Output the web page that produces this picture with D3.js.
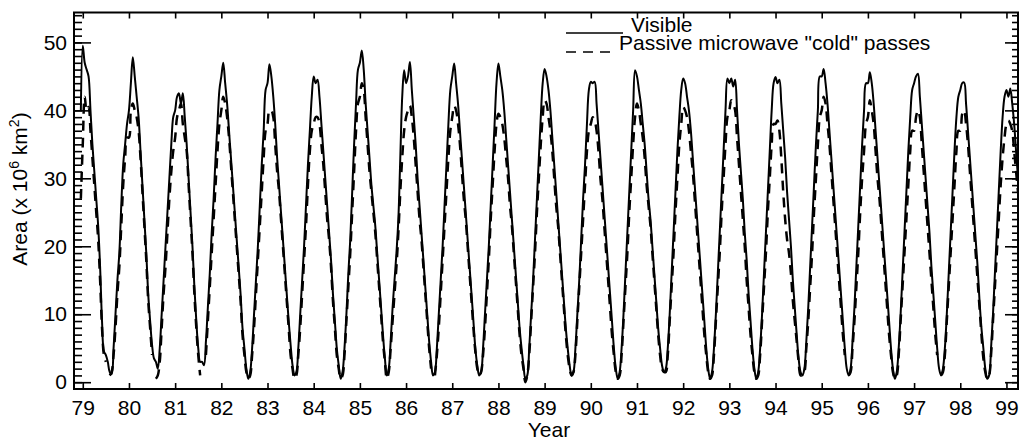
<!DOCTYPE html>
<html>
<head>
<meta charset="utf-8">
<script src="https://cdn.jsdelivr.net/npm/d3@7"></script>
<style>
  body { margin: 0; background: #fff; }
  svg text { font-family: "Liberation Sans", Arial, Helvetica, sans-serif; fill: #000; }
</style>
</head>
<body>
<div id="chart"></div>
<script>
// half-month samples, first one at 78 + 23/24
var startYear = 78 + 23 / 24;
var stepsPerYear = 24;
var yearTicks = d3.range(79, 100);
var areaTicks = [0, 10, 20, 30, 40, 50];
var legendLabels = ["Visible", "Passive microwave \"cold\" passes"];

// Visible (10^6 km2), one row per year
var visible = [40,
  49.5,47,46,45,40,35,31,27,23,17,9,4.5,4,3,1.5,1.2,5,10,15,19,26,32,35,38,
  40,44,47.8,45,42,39,34,29,24,19,13,9,5.5,3.5,3,2,5,10,15,20,25,30,35,39,
  40,42,42.5,41,42.5,39,35,30,25,20,14,9,5,3,3,2.5,6,11,16,22,27,33,38,43,
  45,47,44,41,37,33,29,25,21,17,13,8,5,2,0.5,1.5,5,10,15,20,26,32,37,43,
  44,46.8,45,42,38,33,29,25,21,17,13,9,5.5,2.5,1,1.5,5,10,15,20,26,32,37,42,
  45,44,44.5,42,38,34,30,26,22,18,13,9,5,2.5,0.5,1.5,5,10,16,21,28,35,41,46,
  47,48.8,46,41,37,33,29,26,23,19,15,11,7,3.5,1,2,6,11,15,19,24,33,42,45.9,
  44,45,47.1,43,39,35,30,26,22,18,14,10,6,3,1,1.5,5,10,15,20,26,32,38,43,
  45,46.9,44,41,37,33,29,25,21,17,13,9,5,2.5,1,1.5,5,10,15,20,26,32,38,44,
  46.9,45,43,40,36,32,28,24,20,16,12,8,5,2.5,0.5,1,5,10,15,21,27,33,39,44,
  46.1,45,43,40,36,32,28,24,20,16,12,8,5,2.5,1,1.5,5,10,15,21,27,32,38,43,
  44.2,44,44.2,41,37,33,29,25,21,17,13,9,5,2,0.5,1.5,5,10,16,22,28,34,40,45.9,
  45,43,41,38,35,31,27,24,20,16,12,8,5,2.5,1.5,2,5,10,16,22,28,34,39,43,
  44.7,44,42,40,37,33,29,25,21,17,13,9,5,2,0.5,1.5,5,10,16,22,28,34,40,44.7,
  44,44.7,43.5,44.5,40,35,31,27,22,18,13,9,5,2,0.5,1.5,5,10,16,22,28,34,40,44,
  44.9,44,44.5,41,37,33,28,24,20,15,11,7,3.5,1.5,1,2,6,11,17,23,29,35,40,45,
  45,46.1,44,41,37,33,29,25,21,17,13,9,5,2,1,2,6,11,17,23,29,35,40,44,
  44,45.6,44,41,37,33,29,25,21,17,13,9,5,2,0.5,1.5,5,10,16,22,28,34,39,43,
  44,45,45.4,42,38,34,30,26,22,17,13,9,5,2,1,2,5,10,16,22,28,34,39,42,
  43,44,44.1,41,37,33,29,25,21,17,12,8,5,2,0.5,1,5,10,16,22,28,34,39,42,
  43,42,43.2,41,38,34,30
];

// Passive microwave "cold" passes (10^6 km2), null = no data
var microwave = [27,
  35,42,40,40.5,37,33,29,25,21,15,8,4,3,null,1,1.5,4,8,13,17,23,29,33,36,
  36,40,41,40,39,37,33,28,23,18,12,8,4,null,0.5,1,3,8,13,17,22,27,31,34,
  36,39,40,41,38,36,34,29,24,19,13,8,4,1,null,null,4,9,14,19,24,29,34,38,
  40,42,41,39,36,32,28,24,20,16,12,7,4,1.5,0.5,1,4,8,13,18,23,28,33,37,
  38,40,40,39,35,31,28,24,20,16,12,8,4,2,0.5,1,4,8,13,18,23,29,34,37,
  38,39,39,38,35,32,28,24,21,17,12,8,4,2,0.5,1,4,9,14,19,25,31,37,41,
  42,44,43,39,35,31,28,25,22,18,14,10,6,3,0.5,1.5,5,9,13,17,22,28,33,37,
  39,40,40.7,39,36,32,28,24,21,17,13,9,5,2,null,1,4,8,13,18,23,28,33,37,
  39,40.7,40,38,35,31,27,24,20,16,12,8,4.5,2,1,1.5,4,8,13,18,24,29,34,38,
  39.5,39,38,36,33,30,26,23,19,15,11,7,4,2,0,1,4,9,14,19,25,30,35,39,
  41.5,41,39,37,34,30,26,23,19,15,11,7,4,2,1,1.5,4,9,14,19,24,29,34,37,
  38,39,38.5,37,34,30,27,23,19,15,11,7,4,1.5,0.5,1,4,9,14,19,25,30,35,39,
  41,40,38,36,33,29,26,23,19,15,11,7,4,2,1.5,1.5,4,9,14,19,25,30,35,38,
  40.5,40,39,37,34,31,27,23,19,15,11,7,4,1.5,0.5,1,4,9,14,19,25,30,35,39,
  40,41.5,41,40,36,32,28,24,20,15,11,7,4,1.5,0.5,1,4,9,14,19,25,30,35,38,
  38,38.5,37,33,28,24,21,19,16,12,9,6,3,1,1,1.5,5,9,14,19,25,30,35,39,
  40,42,41,38,35,31,27,23,19,15,11,7,4,null,1,1.5,5,9,14,19,25,30,34,38,
  39,41.5,40,38,34,30,27,23,19,15,11,7,4,1.5,0.5,1,4,9,14,19,24,29,34,37,
  37,39,40,39,35,31,27,23,19,15,11,7,4,null,1,1.5,4,9,14,19,24,29,34,37,
  37,39.5,40,38,35,31,27,23,19,15,11,7,3.5,1.5,0.5,1,4,9,14,19,24,29,33,36,
  38,38.5,38,37,34,31,28
];

var svgWidth = 1019, svgHeight = 440;
var plot = {left: 74, right: 1018, top: 12.5, bottom: 389};
var fontSize = "21px";

var x = d3.scaleLinear()
  .domain([78.81, 99.25])
  .range([plot.left, plot.right]);
var y = d3.scaleLinear()
  .domain([-1, 54.4])
  .range([plot.bottom, plot.top]);

var svg = d3.select("#chart").append("svg")
    .attr("width", svgWidth)
    .attr("height", svgHeight);

svg.append("clipPath")
    .attr("id", "clip")
  .append("rect")
    .attr("x", plot.left)
    .attr("y", plot.top)
    .attr("width", plot.right - plot.left)
    .attr("height", plot.bottom - plot.top);

function toPoints(values) {
  return values.map(function(v, i) {
    return {date: startYear + i / stepsPerYear, area: v};
  });
}

var line = d3.line()
  .defined(function(d) { return d.area !== null; })
  .x(function(d) { return x(d.date); })
  .y(function(d) { return y(d.area); })
  .curve(d3.curveCatmullRom.alpha(0.5));

var lines = svg.append("g").attr("clip-path", "url(#clip)");

lines.append("path")
    .datum(toPoints(microwave))
    .attr("fill", "none")
    .attr("stroke", "#000")
    .attr("stroke-width", 2.5)
    .attr("stroke-dasharray", "10,7")
    .attr("d", line);

lines.append("path")
    .datum(toPoints(visible))
    .attr("fill", "none")
    .attr("stroke", "#000")
    .attr("stroke-width", 2)
    .attr("d", line);

function styleAxis(g) {
  g.select(".domain").remove();
  g.selectAll(".tick line").attr("stroke", "#000").attr("stroke-width", 1.6);
  g.selectAll("text").attr("font-size", fontSize).attr("fill", "#000");
}

// bottom and top year ticks
svg.append("g")
    .attr("transform", "translate(0," + plot.bottom + ")")
    .call(d3.axisBottom(x).tickValues(yearTicks).tickFormat(function(d) { return d; })
      .tickSize(-6).tickPadding(11))
    .call(styleAxis);

svg.append("g")
    .attr("transform", "translate(0," + plot.top + ")")
    .call(d3.axisTop(x).tickValues(yearTicks).tickFormat("").tickSize(-6))
    .call(styleAxis);

// left axis: minor every 1, major every 10
svg.append("g")
    .attr("transform", "translate(" + plot.left + ",0)")
    .call(d3.axisLeft(y).tickValues(d3.range(0, 55)).tickFormat("").tickSize(-8))
    .call(styleAxis);

svg.append("g")
    .attr("transform", "translate(" + plot.left + ",0)")
    .call(d3.axisLeft(y).tickValues(areaTicks).tickSize(-17).tickPadding(7))
    .call(styleAxis);

// right axis
svg.append("g")
    .attr("transform", "translate(" + plot.right + ",0)")
    .call(d3.axisRight(y).tickValues(d3.range(0, 55)).tickFormat("").tickSize(-6))
    .call(styleAxis);

svg.append("g")
    .attr("transform", "translate(" + plot.right + ",0)")
    .call(d3.axisRight(y).tickValues(areaTicks).tickFormat("").tickSize(-13))
    .call(styleAxis);

// frame
svg.append("rect")
    .attr("x", plot.left)
    .attr("y", plot.top)
    .attr("width", plot.right - plot.left)
    .attr("height", plot.bottom - plot.top)
    .attr("fill", "none")
    .attr("stroke", "#000")
    .attr("stroke-width", 2);

// axis titles
svg.append("text")
    .attr("x", 549)
    .attr("y", 437)
    .attr("text-anchor", "middle")
    .attr("font-size", fontSize)
    .text("Year");

var yTitle = svg.append("text")
    .attr("transform", "translate(27,189) rotate(-90)")
    .attr("text-anchor", "middle")
    .attr("font-size", fontSize);
yTitle.append("tspan").text("Area (x 10");
yTitle.append("tspan").attr("font-size", "14px").attr("dy", -8).text("6");
yTitle.append("tspan").attr("dy", 8).text(" km");
yTitle.append("tspan").attr("font-size", "14px").attr("dy", -8).text("2");
yTitle.append("tspan").attr("dy", 8).text(")");

// legend
var legend = svg.append("g");
legend.append("line")
    .attr("x1", 566).attr("x2", 623)
    .attr("y1", 33).attr("y2", 33)
    .attr("stroke", "#000").attr("stroke-width", 1.6);
legend.append("text")
    .attr("x", 631).attr("y", 32)
    .attr("font-size", fontSize)
    .text(legendLabels[0]);
legend.append("line")
    .attr("x1", 566).attr("x2", 612)
    .attr("y1", 52).attr("y2", 52)
    .attr("stroke", "#000").attr("stroke-width", 1.6)
    .attr("stroke-dasharray", "10,7");
legend.append("text")
    .attr("x", 619).attr("y", 50)
    .attr("font-size", fontSize)
    .text(legendLabels[1]);
</script>
</body>
</html>
